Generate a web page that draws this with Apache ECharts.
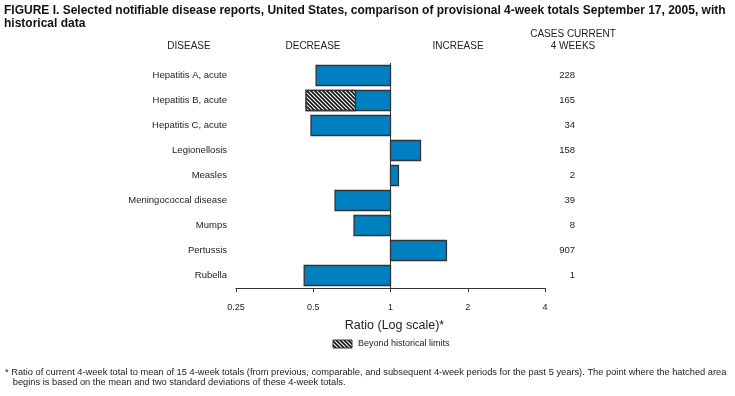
<!DOCTYPE html>
<html>
<head>
<meta charset="utf-8">
<script src="https://cdn.jsdelivr.net/npm/echarts@6/dist/echarts.min.js"></script>
<style>html,body{margin:0;padding:0;background:#fff}#c{width:735px;height:396px}</style>
</head>
<body>
<div id="c"></div>
<script>
var diseases = ['Hepatitis A, acute','Hepatitis B, acute','Hepatitis C, acute','Legionellosis','Measles','Meningococcal disease','Mumps','Pertussis','Rubella'];
var ratios = [0.513, 0.469, 0.490, 1.309, 1.074, 0.608, 0.721, 1.652, 0.461];
// ratio at which the hatched (beyond historical limits) part begins; null if none
var hatchStart = [null, 0.730, null, null, null, null, null, null, null];
var casesCurrent = ['228','165','34','158','2','39','8','907','1'];
var xTicks = [0.25, 0.5, 1, 2, 4];

var FONT = '"Liberation Sans", Arial, sans-serif';

function makeHatch(){
  var c = document.createElement('canvas');
  c.width = 4; c.height = 4;
  var g = c.getContext('2d');
  g.fillStyle = '#fff'; g.fillRect(0,0,4,4);
  g.strokeStyle = '#111'; g.lineWidth = 1.6;
  g.beginPath();
  g.moveTo(-1,-1); g.lineTo(5,5);
  g.moveTo(-1,3); g.lineTo(1,5);
  g.moveTo(3,-1); g.lineTo(5,1);
  g.stroke();
  return c;
}
var hatch = {image: makeHatch(), repeat: 'repeat'};
var BLUE = '#0080c0';
var EDGE = '#333333';

var chart = echarts.init(document.getElementById('c'), null, {renderer: 'canvas'});
var data = ratios.map(function(r, i){ return [r, i, hatchStart[i] == null ? -1 : hatchStart[i]]; });

chart.setOption({
  animation: false,
  grid: {left: 236, right: 190, top: 63, height: 225, containLabel: false},
  xAxis: {
    type: 'log', logBase: 2, min: xTicks[0], max: xTicks[xTicks.length - 1],
    name: 'Ratio (Log scale)*', nameLocation: 'middle', nameGap: 31,
    nameTextStyle: {fontFamily: FONT, fontSize: 12.5, color: '#222', padding: [0, 0, 0, 8]},
    axisLine: {show: true, lineStyle: {color: '#333', width: 1}},
    axisTick: {show: true, length: 4, lineStyle: {color: '#333'}},
    axisLabel: {fontFamily: FONT, fontSize: 9, color: '#222', margin: 15,
      formatter: function(v){ return String(+v.toFixed(2)); }},
    splitLine: {show: false},
    minorTick: {show: false}
  },
  yAxis: [{
    type: 'category', data: diseases, inverse: true,
    axisLine: {show: false}, axisTick: {show: false},
    axisLabel: {fontFamily: FONT, fontSize: 9.5, color: '#222', margin: 9}
  },{
    type: 'category', data: casesCurrent, inverse: true, position: 'right',
    axisLine: {show: false}, axisTick: {show: false},
    axisLabel: {fontFamily: FONT, fontSize: 9.5, color: '#222', margin: 30, align: 'right'}
  }],
  graphic: [
    {type: 'text', left: 4, top: 4, style: {text: 'FIGURE I. Selected notifiable disease reports, United States, comparison of provisional 4-week totals September 17, 2005, with\nhistorical data', font: 'bold 12px ' + FONT, fill: '#111', lineHeight: 13}},
    {type: 'text', x: 189, y: 46, style: {text: 'DISEASE', font: '10px ' + FONT, fill: '#222', textAlign: 'center', textVerticalAlign: 'middle'}},
    {type: 'text', x: 313, y: 46, style: {text: 'DECREASE', font: '10px ' + FONT, fill: '#222', textAlign: 'center', textVerticalAlign: 'middle'}},
    {type: 'text', x: 458, y: 46, style: {text: 'INCREASE', font: '10px ' + FONT, fill: '#222', textAlign: 'center', textVerticalAlign: 'middle'}},
    {type: 'text', x: 573, y: 40, style: {text: 'CASES CURRENT\n4 WEEKS', font: '10px ' + FONT, fill: '#222', textAlign: 'center', textVerticalAlign: 'middle', lineHeight: 12}},
    {type: 'rect', shape: {x: 333, y: 340, width: 19, height: 8}, style: {fill: hatch, stroke: EDGE, lineWidth: 1}},
    {type: 'text', x: 358, y: 344, style: {text: 'Beyond historical limits', font: '9px ' + FONT, fill: '#222', textVerticalAlign: 'middle'}},
    {type: 'text', left: 5, top: 367, style: {text: '* Ratio of current 4-week total to mean of 15 4-week totals (from previous, comparable, and subsequent 4-week periods for the past 5 years). The point where the hatched area\n   begins is based on the mean and two standard deviations of these 4-week totals.', font: '9.3px ' + FONT, fill: '#222', lineHeight: 10}}
  ],
  series: [{
    type: 'custom',
    data: data,
    encode: {x: 0, y: 1},
    renderItem: function(params, api){
      var r = api.value(0), idx = api.value(1), hs = api.value(2);
      var p1 = api.coord([1, idx]);
      var pv = api.coord([r, idx]);
      var bh = api.size([0, 1])[1] * 0.8;
      var y = p1[1] - bh / 2;
      var x0 = Math.min(p1[0], pv[0]), w = Math.abs(pv[0] - p1[0]);
      var children = [{
        type: 'rect', shape: {x: x0, y: y, width: w, height: bh},
        style: {fill: BLUE, stroke: EDGE, lineWidth: 1.3}
      }];
      if (hs > 0) {
        var ph = api.coord([hs, idx]);
        children.push({
          type: 'rect', shape: {x: pv[0], y: y, width: ph[0] - pv[0], height: bh},
          style: {fill: hatch, stroke: EDGE, lineWidth: 1.3}
        });
      }
      return {type: 'group', children: children};
    },
    markLine: {
      silent: true, symbol: 'none', label: {show: false},
      lineStyle: {color: '#333', width: 1, type: 'solid'},
      data: [{xAxis: 1}]
    }
  }]
});
</script>
</body>
</html>
